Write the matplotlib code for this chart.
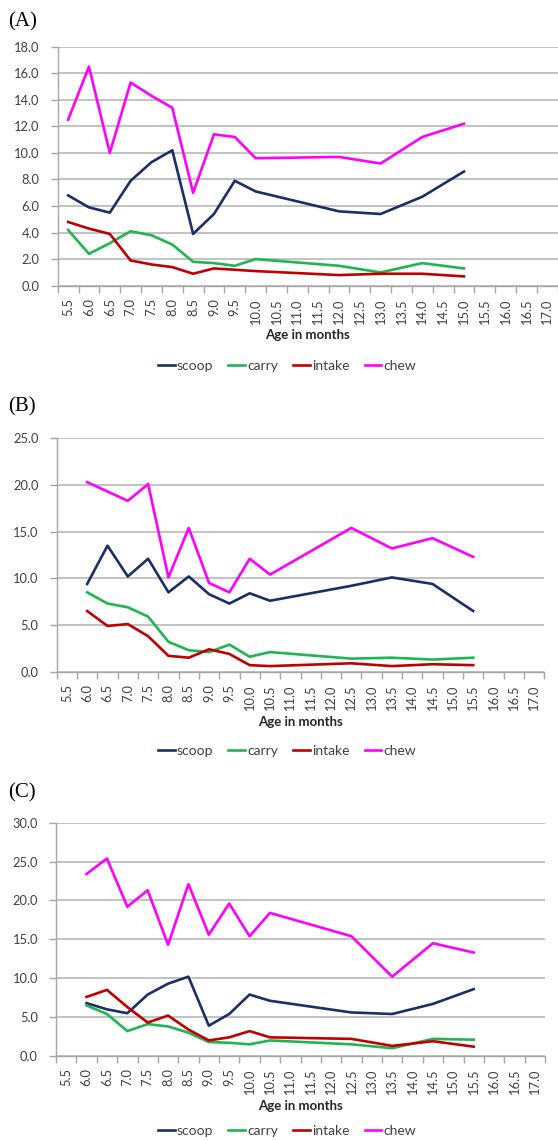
import numpy as np
import matplotlib.pyplot as plt

plt.rcParams['font.family'] = ['Lato', 'DejaVu Sans']

# category axis (Excel style): labels sit between the tick marks
categories = ["5.5", "6.0", "6.5", "7.0", "7.5", "8.0", "8.5", "9.0", "9.5",
              "10.0", "10.5", "11.0", "11.5", "12.0", "12.5", "13.0", "13.5",
              "14.0", "14.5", "15.0", "15.5", "16.0", "16.5", "17.0"]
series_names = ["scoop", "carry", "intake", "chew"]
series_colors = ["#1b2f66", "#1fb552", "#c00000", "#ff00ff"]

# (A)
ages_a = ["5.5", "6.0", "6.5", "7.0", "7.5", "8.0", "8.5", "9.0", "9.5", "10.0",
          "12.0", "13.0", "14.0", "15.0"]
scoop_a = [6.8, 5.9, 5.5, 7.9, 9.3, 10.2, 3.9, 5.4, 7.9, 7.1, 5.6, 5.4, 6.7, 8.6]
carry_a = [4.2, 2.4, 3.2, 4.1, 3.8, 3.1, 1.8, 1.7, 1.5, 2.0, 1.5, 1.0, 1.7, 1.3]
intake_a = [4.8, 4.3, 3.9, 1.9, 1.6, 1.4, 0.9, 1.3, 1.2, 1.1, 0.8, 0.9, 0.9, 0.7]
chew_a = [12.5, 16.5, 10.0, 15.3, 14.3, 13.4, 7.0, 11.4, 11.2, 9.6, 9.7, 9.2, 11.2, 12.2]

# (B)
ages_b = ["6.0", "6.5", "7.0", "7.5", "8.0", "8.5", "9.0", "9.5", "10.0", "10.5",
          "12.5", "13.5", "14.5", "15.5"]
scoop_b = [9.4, 13.5, 10.2, 12.1, 8.5, 10.2, 8.3, 7.3, 8.4, 7.6, 9.2, 10.1, 9.4, 6.5]
carry_b = [8.5, 7.3, 6.9, 5.9, 3.2, 2.3, 2.1, 2.9, 1.6, 2.1, 1.4, 1.5, 1.3, 1.5]
intake_b = [6.5, 4.9, 5.1, 3.8, 1.7, 1.5, 2.4, 1.9, 0.7, 0.6, 0.9, 0.6, 0.8, 0.7]
chew_b = [20.3, 19.3, 18.3, 20.1, 10.1, 15.4, 9.5, 8.5, 12.1, 10.4, 15.4, 13.2, 14.3, 12.3]

# (C)
ages_c = ["6.0", "6.5", "7.0", "7.5", "8.0", "8.5", "9.0", "9.5", "10.0", "10.5",
          "12.5", "13.5", "14.5", "15.5"]
scoop_c = [6.8, 6.0, 5.5, 7.9, 9.3, 10.2, 3.9, 5.4, 7.9, 7.1, 5.6, 5.4, 6.7, 8.6]
carry_c = [6.5, 5.4, 3.2, 4.1, 3.8, 3.0, 1.8, 1.7, 1.5, 2.0, 1.5, 1.0, 2.2, 2.1]
intake_c = [7.6, 8.5, 6.3, 4.3, 5.2, 3.4, 2.0, 2.4, 3.2, 2.4, 2.2, 1.3, 1.9, 1.2]
chew_c = [23.4, 25.4, 19.2, 21.3, 14.3, 22.1, 15.6, 19.6, 15.4, 18.4, 15.4, 10.2, 14.5, 13.3]

W, H = 558, 1140
fig = plt.figure(figsize=(W / 100, H / 100), dpi=100)

text_col = "#404040"
axis_col = "#a6a6a6"


def px_rect(left, top, right, bottom):
    return [left / W, 1 - bottom / H, (right - left) / W, (bottom - top) / H]


def draw_panel(rect, ages, values, ymax, step, letter, letter_y, xlabel_y, legend_y):
    ax = fig.add_axes(rect)
    xs = [categories.index(a) for a in ages]
    handles = []
    for name, vals, col in zip(series_names, values, series_colors):
        h, = ax.plot(xs, vals, color=col, lw=1.9, label=name)
        handles.append(h)

    ax.set_xlim(-0.5, len(categories) - 0.5)
    ax.set_ylim(0, ymax)
    yt = np.arange(0, ymax + 0.001, step)
    ax.set_yticks(yt)
    ax.set_yticklabels([f"{v:.1f}" for v in yt], fontsize=9.3, color=text_col)

    # tick marks on the category boundaries, labels at the centres
    ax.set_xticks(np.arange(len(categories) + 1) - 0.5)
    ax.set_xticklabels([])
    ax.set_xticks(np.arange(len(categories)), minor=True)
    ax.set_xticklabels(categories, minor=True, rotation=90, fontsize=9.3, color=text_col)
    ax.tick_params(axis='x', which='major', length=5, color=axis_col, width=1)
    ax.tick_params(axis='x', which='minor', length=0, pad=9)
    ax.tick_params(axis='y', length=5, color=axis_col, width=1, pad=8)

    ax.grid(axis='y', color='#bdbdbd', lw=1.3)
    ax.set_axisbelow(True)
    for s in ['top', 'right']:
        ax.spines[s].set_visible(False)
    for s in ['left', 'bottom']:
        ax.spines[s].set_color(axis_col)
        ax.spines[s].set_linewidth(1)

    fig.text(8 / W, 1 - letter_y / H, letter, family='Liberation Serif',
             fontsize=15, ha='left', va='center')
    cx = rect[0] + rect[2] / 2
    fig.text(cx, 1 - xlabel_y / H, "Age in months", fontsize=9.5,
             fontweight='bold', color='#262626', ha='center', va='center')
    fig.legend(handles, series_names, loc='center',
               bbox_to_anchor=(287 / W, 1 - legend_y / H), ncol=4,
               frameon=False, fontsize=10, handlelength=1.2,
               handletextpad=0.15, columnspacing=1.1, labelcolor=text_col)
    return ax


draw_panel(px_rect(57.7, 46.7, 557.7, 285.7), ages_a,
           [scoop_a, carry_a, intake_a, chew_a], 18, 2, "(A)", 22, 335, 366)
draw_panel(px_rect(56.7, 438.3, 544.3, 671.7), ages_b,
           [scoop_b, carry_b, intake_b, chew_b], 25, 5, "(B)", 407, 722, 751)
draw_panel(px_rect(56, 822.7, 545, 1056), ages_c,
           [scoop_c, carry_c, intake_c, chew_c], 30, 5, "(C)", 793, 1106, 1131)

fig.savefig("out.png", dpi=100)
